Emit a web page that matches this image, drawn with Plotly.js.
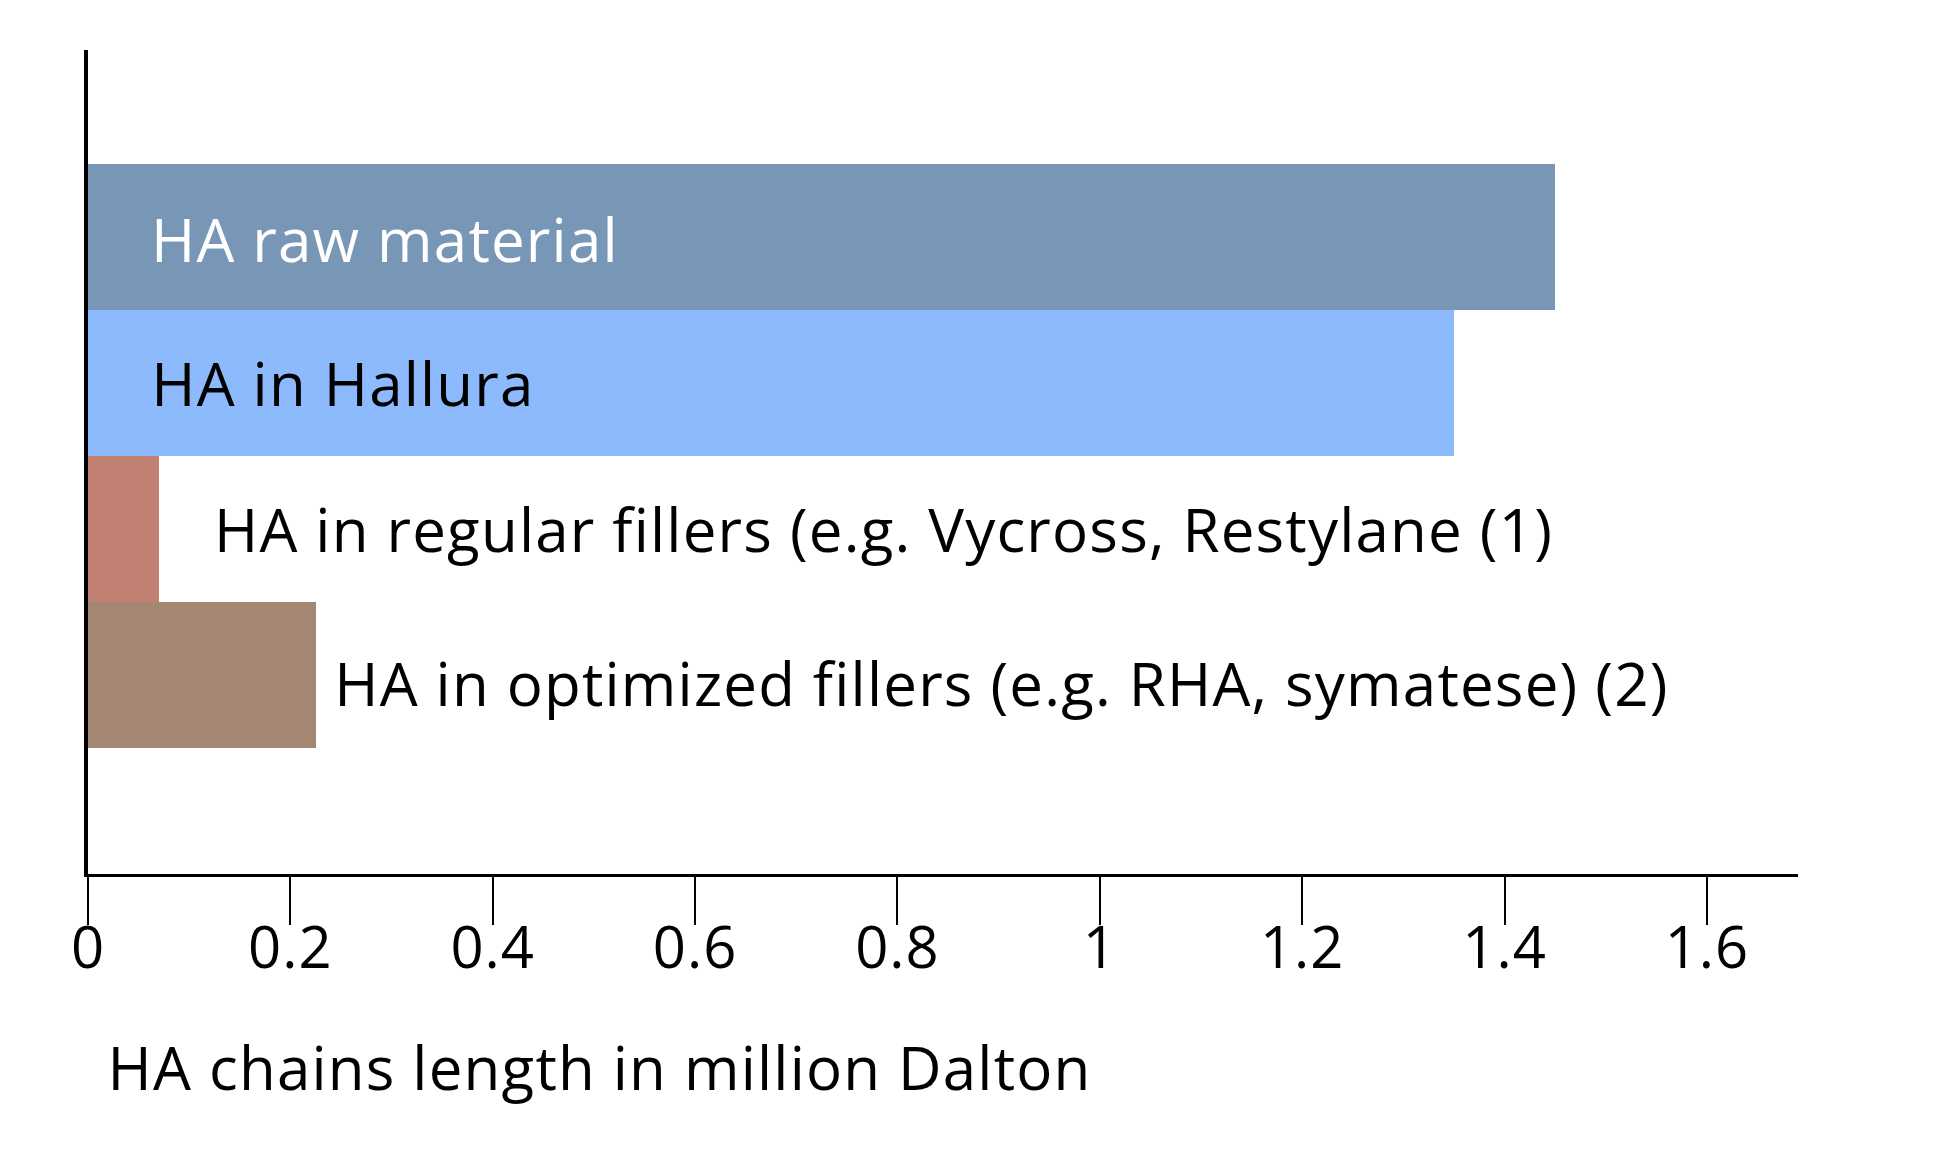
<!DOCTYPE html>
<html>
<head>
<meta charset="utf-8">
<script src="https://cdn.plot.ly/plotly-3.0.1.min.js"></script>
<style>
html,body{margin:0;padding:0;background:#fff;}
#chart{width:1942px;height:1166px;}
#chart text.annotation-text{letter-spacing:1.2px;}
#chart .xtick text{letter-spacing:1px;}
</style>
</head>
<body>
<div id="chart"></div>
<script>
const categories = [
  "HA raw material",
  "HA in Hallura",
  "HA in regular fillers (e.g. Vycross, Restylane (1)",
  "HA in optimized fillers (e.g. RHA, symatese) (2)"
];
const values = [1.45, 1.35, 0.07, 0.225];
const barColors = ["#7897b6", "#8dbafc", "#c08173", "#a48773"];
const labelColors = ["#ffffff", "#000000", "#000000", "#000000"];
const tickValues = [0, 0.2, 0.4, 0.6, 0.8, 1, 1.2, 1.4, 1.6];
const tickLabels = ["0", "0.2", "0.4", "0.6", "0.8", "1", "1.2", "1.4", "1.6"];
const axisTitle = "HA chains length in million Dalton";

const FONT = "'Open Sans', 'Noto Sans', sans-serif";

const trace = {
  type: "bar",
  orientation: "h",
  x: values,
  y: categories,
  marker: {color: barColors, line: {width: 0}},
  hoverinfo: "skip"
};

// label placement: first two inside from the base, the others after the bar end
const labelAnn = categories.map((c, i) => {
  const inside = i < 2;
  const shifts = [70, 69, 83, 45];
  const yshifts = [-2, 0, 0, -8];
  return {
    x: inside ? 0 : values[i],
    y: c,
    xref: "x", yref: "y",
    text: c,
    showarrow: false,
    xanchor: "left",
    yanchor: "middle",
    xshift: shifts[i],
    yshift: yshifts[i],
    font: {family: FONT, size: 60, color: labelColors[i]}
  };
});

labelAnn.push({
  xref: "paper", yref: "paper",
  x: 0, y: 0,
  xanchor: "left", yanchor: "middle",
  xshift: 38, yshift: -193,
  text: axisTitle,
  showarrow: false,
  font: {family: FONT, size: 60, color: "#000"}
});

const layout = {
  width: 1942, height: 1166,
  margin: {l: 88, r: 144, t: 50, b: 292},
  paper_bgcolor: "#fff",
  plot_bgcolor: "#fff",
  showlegend: false,
  bargap: 0,
  font: {family: FONT, color: "#000"},
  xaxis: {
    range: [0, 1.69],
    tickmode: "array",
    tickvals: tickValues,
    ticktext: tickLabels,
    ticks: "outside",
    ticklen: 48,
    tickwidth: 2,
    tickcolor: "#000",
    ticklabelstandoff: -27,
    showline: true,
    linecolor: "#000",
    linewidth: 3,
    showgrid: false,
    zeroline: false,
    tickfont: {family: FONT, size: 58, color: "#000"}
  },
  yaxis: {
    type: "category",
    categoryorder: "array",
    categoryarray: categories,
    range: [4.363, -1.28],
    showticklabels: false,
    ticks: "",
    showline: true,
    linecolor: "#000",
    linewidth: 4,
    showgrid: false,
    zeroline: false
  },
  annotations: labelAnn
};

Plotly.newPlot("chart", [trace], layout, {staticPlot: true, displayModeBar: false});
</script>
</body>
</html>
